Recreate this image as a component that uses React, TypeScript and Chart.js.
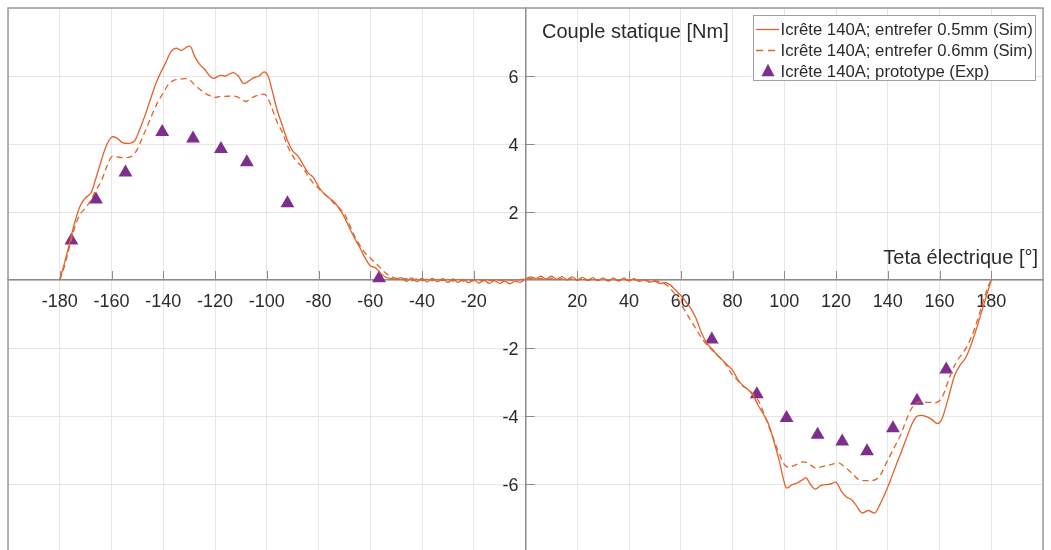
import React, { useEffect, useRef } from "react";
import { Chart, registerables } from "chart.js";

Chart.register(...registerables);

// ---- Data ----
const thetaSim05: number[] = [
  -180, -178, -176, -174, -172, -170, -168, -166, -164, -162, -160, -158, -156, -153, -151, -149, -147, -145, -143, -141,
  -139, -137, -135, -133, -131, -129.5, -128, -126, -124, -122, -120.5, -118, -116, -113, -111, -109, -107, -105, -103, -101,
  -99.5, -98, -96, -94, -92, -90, -88, -86, -84, -82, -80, -78, -76, -74, -72, -70, -68, -66, -64, -62,
  -60, -58, -56, -54, -52,
  -50, -48, -46, -44, -42, -40, -38, -36, -34, -32, -30, -28, -26, -24, -22, -20, -18, -16, -14, -12, -10, -8, -6, -4, -2,
  0, 2, 4, 6, 8, 10, 12, 14, 16, 18, 20, 22, 24, 26, 28, 30, 32, 34, 36, 38, 40, 42, 44, 46, 48, 50,
  52, 54, 56, 58, 60, 62, 64, 66, 68, 70, 72, 74, 76, 78, 80, 82, 84, 86, 88, 90, 92, 94, 96, 98, 100, 101,
  103, 105, 107, 108.5, 110, 112, 114, 116, 118, 120, 122, 124, 126, 128, 130, 132.5, 135, 137, 139, 141, 143, 145,
  147, 149, 151, 153, 155, 157, 159, 160.5, 162, 164, 166, 168, 170, 172, 174, 176, 178, 180,
];
const torqueSim05: number[] = [
  0, 0.55, 1.15, 1.75, 2.2, 2.42, 2.55, 3.0, 3.5, 3.95, 4.2, 4.18, 4.05, 4.02, 4.1, 4.45, 4.85, 5.3, 5.75, 6.1,
  6.4, 6.72, 6.82, 6.75, 6.85, 6.87, 6.6, 6.35, 6.2, 6.0, 5.93, 6.02, 6.0, 6.1, 6.0, 5.78, 5.85, 5.95, 6.0, 6.12,
  6.0, 5.6, 5.0, 4.55, 4.1, 3.8, 3.65, 3.4, 3.15, 3.02, 2.75, 2.55, 2.42, 2.3, 2.1, 1.85, 1.52, 1.22, 0.95, 0.65,
  0.42, 0.36, 0.2, 0.08, 0.05,
  0.02, 0.07, -0.04, 0.06, -0.05, 0.05, -0.06, 0.05, -0.05, 0.04, -0.07, 0.03, -0.07, 0.02, -0.08, 0.01, -0.09, 0.0, -0.1, -0.02, -0.1, -0.03, -0.11, -0.03, -0.07,
  0.03, 0.09, 0.05, 0.11, 0.03, 0.11, 0.02, 0.1, 0.01, 0.09, 0.0, 0.08, -0.01, 0.07, -0.02, 0.06, -0.03, 0.06, -0.03, 0.06, -0.03, 0.04, -0.04, 0.01, -0.06, -0.04,
  -0.1, -0.08, -0.15, -0.3, -0.45, -0.65, -0.85, -1.15, -1.55, -1.85, -2.02, -2.2, -2.35, -2.5, -2.65, -2.92, -3.1, -3.22, -3.4, -3.7, -3.95, -4.25, -4.75, -5.3, -5.95, -6.12,
  -6.02, -5.97, -5.88, -5.82, -6.0, -6.15, -6.05, -6.02, -6.0, -5.95, -6.2, -6.38, -6.46, -6.65, -6.85, -6.78, -6.85, -6.6, -6.27, -5.9, -5.49, -5.1,
  -4.7, -4.3, -4.02, -3.98, -4.02, -4.1, -4.22, -4.15, -3.85, -3.3, -2.78, -2.5, -2.3, -1.95, -1.5, -1.0, -0.5, 0,
];

const thetaSim06: number[] = [
  -180, -178, -176, -174, -172, -170, -168, -166, -164, -162, -160, -158, -156, -154, -152, -150, -148, -146, -144, -142,
  -140, -138, -136, -134, -132, -130, -128, -126, -124, -122, -120, -118, -116, -114, -112, -110, -108, -106, -104, -102,
  -100.5, -99, -97.5, -96, -94, -92, -90, -88, -86, -84, -82, -80, -78, -76, -74, -72, -70, -68, -66, -64,
  -62, -60, -58, -56, -54, -52,
  -50, -48, -46, -44, -42, -40, -38, -36, -34, -32, -30, -28, -26, -24, -22, -20, -18, -16, -14, -12, -10, -8, -6, -4, -2,
  0, 2, 4, 6, 8, 10, 12, 14, 16, 18, 20, 22, 24, 26, 28, 30, 32, 34, 36, 38, 40, 42, 44, 46, 48, 50,
  52, 54, 56, 58, 60, 62, 64, 66, 68, 70, 72, 74, 76, 78, 80, 82, 84, 86, 88, 90, 92, 94, 96, 98, 100, 101.5,
  104, 107, 109, 112, 115, 118, 121, 123, 125, 127, 129, 132, 135, 137, 139, 141, 143, 145, 147, 149,
  151, 153, 155, 157, 159, 161, 163, 165, 167, 169, 171, 173, 175, 177, 179, 180,
];
const torqueSim06: number[] = [
  0, 0.45, 1.05, 1.6, 1.95, 2.12, 2.35, 2.65, 2.9, 3.3, 3.62, 3.62, 3.6, 3.6, 3.65, 3.85, 4.2, 4.55, 4.92, 5.25,
  5.5, 5.75, 5.87, 5.9, 5.92, 5.9, 5.75, 5.62, 5.5, 5.42, 5.37, 5.4, 5.4, 5.41, 5.4, 5.33, 5.25, 5.35, 5.42, 5.46,
  5.45, 5.25, 4.95, 4.65, 4.35, 3.95, 3.65, 3.45, 3.3, 3.05, 2.85, 2.7, 2.55, 2.42, 2.25, 2.12, 1.95, 1.62, 1.28, 1.02,
  0.8, 0.65, 0.5, 0.35, 0.2, 0.1,
  0.05, 0.02, 0.04, -0.02, 0.03, -0.02, 0.03, -0.02, 0.02, -0.02, 0.02, -0.03, 0.02, -0.03, 0.01, -0.03, 0.01, -0.03, 0.0, -0.03, 0.0, -0.03, 0.0, -0.02, 0.01,
  0.02, 0.05, 0.02, 0.05, 0.01, 0.05, 0.01, 0.04, 0.0, 0.04, 0.0, 0.03, -0.01, 0.03, -0.01, 0.03, -0.02, 0.02, -0.02, 0.02, -0.02, 0.01, -0.03, -0.01, -0.04, -0.02,
  -0.06, -0.12, -0.25, -0.45, -0.7, -0.95, -1.2, -1.45, -1.7, -1.9, -2.05, -2.2, -2.35, -2.55, -2.8, -2.95, -3.12, -3.22, -3.35, -3.55, -3.9, -4.3, -4.7, -5.1, -5.42, -5.5,
  -5.45, -5.35, -5.38, -5.53, -5.48, -5.43, -5.38, -5.48, -5.6, -5.75, -5.88, -5.9, -5.88, -5.75, -5.45, -5.15, -4.85, -4.55, -4.15, -3.8,
  -3.62, -3.58, -3.6, -3.6, -3.6, -3.45, -3.05, -2.65, -2.35, -2.15, -1.9, -1.55, -1.1, -0.6, -0.15, 0,
];

const thetaExp: number[] = [-175.5, -166, -154.6, -140.4, -128.5, -117.7, -107.7, -92, -56.6, 72, 89.4, 100.9, 112.9, 122.4, 132, 142, 151.3, 162.6];
const torqueExp: number[] = [1.16, 2.37, 3.16, 4.35, 4.16, 3.85, 3.46, 2.26, 0.05, -1.75, -3.36, -4.06, -4.55, -4.75, -5.04, -4.36, -3.55, -2.63];

const xTickLabels: number[] = [-180, -160, -140, -120, -100, -80, -60, -40, -20, 20, 40, 60, 80, 100, 120, 140, 160, 180];
const yTickLabels: number[] = [-6, -4, -2, 2, 4, 6];

const seriesLabels: string[] = [
  "Icrête 140A; entrefer 0.5mm (Sim)",
  "Icrête 140A; entrefer 0.6mm (Sim)",
  "Icrête 140A; prototype (Exp)",
];
const xTitle = "Teta électrique [°]";
const yTitle = "Couple statique [Nm]";

const ORANGE = "#E2622A";
const PURPLE = "#7E2F8E";
const FONT = "'Liberation Sans', Arial, Helvetica, sans-serif";
const TEXT = "#2b2b2b";
const AXIS = "#8c8c8c";

const toXY = (xs: number[], ys: number[]) => xs.map((x, i) => ({ x, y: ys[i] }));

const decorPlugin = {
  id: "decor",
  beforeDatasetsDraw(chart: any) {
    const { ctx, chartArea, scales } = chart;
    const xs = scales.x;
    const ys = scales.y;
    const x0 = xs.getPixelForValue(0);
    const y0 = ys.getPixelForValue(0);
    ctx.save();
    // tick marks (inward)
    ctx.strokeStyle = AXIS;
    ctx.lineWidth = 1;
    ctx.beginPath();
    xTickLabels.forEach((v) => {
      const px = Math.round(xs.getPixelForValue(v)) + 0.5;
      ctx.moveTo(px, y0);
      ctx.lineTo(px, y0 - 9);
    });
    yTickLabels.forEach((v) => {
      const py = Math.round(ys.getPixelForValue(v)) + 0.5;
      ctx.moveTo(x0, py);
      ctx.lineTo(x0 + 9, py);
    });
    ctx.stroke();
    // tick labels
    ctx.fillStyle = TEXT;
    ctx.font = `18px ${FONT}`;
    ctx.textAlign = "center";
    ctx.textBaseline = "alphabetic";
    xTickLabels.forEach((v) => {
      ctx.fillText(String(v), xs.getPixelForValue(v), y0 + 26.5);
    });
    ctx.textAlign = "right";
    yTickLabels.forEach((v) => {
      ctx.fillText(String(v), x0 - 7, ys.getPixelForValue(v) + 6.5);
    });
    // axis titles
    ctx.font = `20px ${FONT}`;
    ctx.textAlign = "left";
    ctx.fillText(yTitle, x0 + 16.5, chartArea.top + 29.5);
    ctx.textAlign = "right";
    ctx.fillText(xTitle, chartArea.right - 5, y0 - 16.5);
    ctx.restore();
  },
  afterDraw(chart: any) {
    const { ctx, chartArea } = chart;
    ctx.save();
    // frame
    ctx.strokeStyle = "#9c9c9c";
    ctx.lineWidth = 1.5;
    ctx.strokeRect(chartArea.left, chartArea.top, chartArea.right - chartArea.left, chartArea.bottom - chartArea.top);
    // legend
    const bx = 753.5, by = 15.5, bw = 282, bh = 65;
    ctx.fillStyle = "#ffffff";
    ctx.fillRect(bx, by, bw, bh);
    ctx.strokeStyle = "#a0a0a0";
    ctx.lineWidth = 1;
    ctx.strokeRect(bx, by, bw, bh);
    const rows = [29.5, 50.5, 70.8];
    ctx.strokeStyle = ORANGE;
    ctx.lineWidth = 1.3;
    ctx.beginPath();
    ctx.moveTo(756, rows[0]);
    ctx.lineTo(779, rows[0]);
    ctx.stroke();
    ctx.setLineDash([7, 5]);
    ctx.beginPath();
    ctx.moveTo(756, rows[1]);
    ctx.lineTo(779, rows[1]);
    ctx.stroke();
    ctx.setLineDash([]);
    ctx.fillStyle = PURPLE;
    ctx.beginPath();
    ctx.moveTo(768, rows[2] - 7);
    ctx.lineTo(774.5, rows[2] + 5.5);
    ctx.lineTo(761.5, rows[2] + 5.5);
    ctx.closePath();
    ctx.fill();
    ctx.fillStyle = TEXT;
    ctx.font = `16.7px ${FONT}`;
    ctx.textAlign = "left";
    ctx.textBaseline = "alphabetic";
    seriesLabels.forEach((s, i) => ctx.fillText(s, 780.5, rows[i] + 5.8));
    ctx.restore();
  },
};

export default function App() {
  const ref = useRef<HTMLCanvasElement | null>(null);
  useEffect(() => {
    document.body.style.margin = "0";
    document.body.style.overflow = "hidden";
    const canvas = ref.current;
    if (!canvas) return;
    const chart = new Chart(canvas, {
      type: "line",
      data: {
        datasets: [
          {
            label: seriesLabels[0],
            data: toXY(thetaSim05, torqueSim05),
            borderColor: ORANGE,
            borderWidth: 1.3,
            pointRadius: 0,
            tension: 0.35,
            fill: false,
          },
          {
            label: seriesLabels[1],
            data: toXY(thetaSim06, torqueSim06),
            borderColor: ORANGE,
            borderWidth: 1.3,
            borderDash: [6, 4],
            pointRadius: 0,
            tension: 0.35,
            fill: false,
          },
          {
            label: seriesLabels[2],
            data: toXY(thetaExp, torqueExp),
            showLine: false,
            pointStyle: "triangle",
            pointRadius: 8,
            pointBackgroundColor: PURPLE,
            pointBorderColor: PURPLE,
            pointBorderWidth: 0,
          },
        ],
      },
      options: {
        responsive: false,
        animation: false,
        devicePixelRatio: 1,
        layout: { padding: { left: 8, right: 7, top: 6, bottom: 7 } },
        plugins: { legend: { display: false }, tooltip: { enabled: false } },
        scales: {
          x: {
            type: "linear",
            min: -200,
            max: 200,
            position: { y: 0 },
            ticks: { display: false, stepSize: 20 },
            grid: { color: "#e6e6e6", lineWidth: 1, drawTicks: false },
            border: { display: true, color: AXIS, width: 1.5 },
          },
          y: {
            type: "linear",
            min: -8,
            max: 8,
            position: { x: 0 },
            ticks: { display: false, stepSize: 2 },
            grid: { color: "#e6e6e6", lineWidth: 1, drawTicks: false },
            border: { display: true, color: AXIS, width: 1.5 },
          },
        },
      },
      plugins: [decorPlugin],
    });
    return () => chart.destroy();
  }, []);
  return (
    <div style={{ position: "fixed", left: 0, top: 0, width: 1051, height: 550, overflow: "hidden", background: "#fff" }}>
      <canvas ref={ref} width={1051} height={560} style={{ display: "block", width: 1051, height: 560 }} />
    </div>
  );
}
